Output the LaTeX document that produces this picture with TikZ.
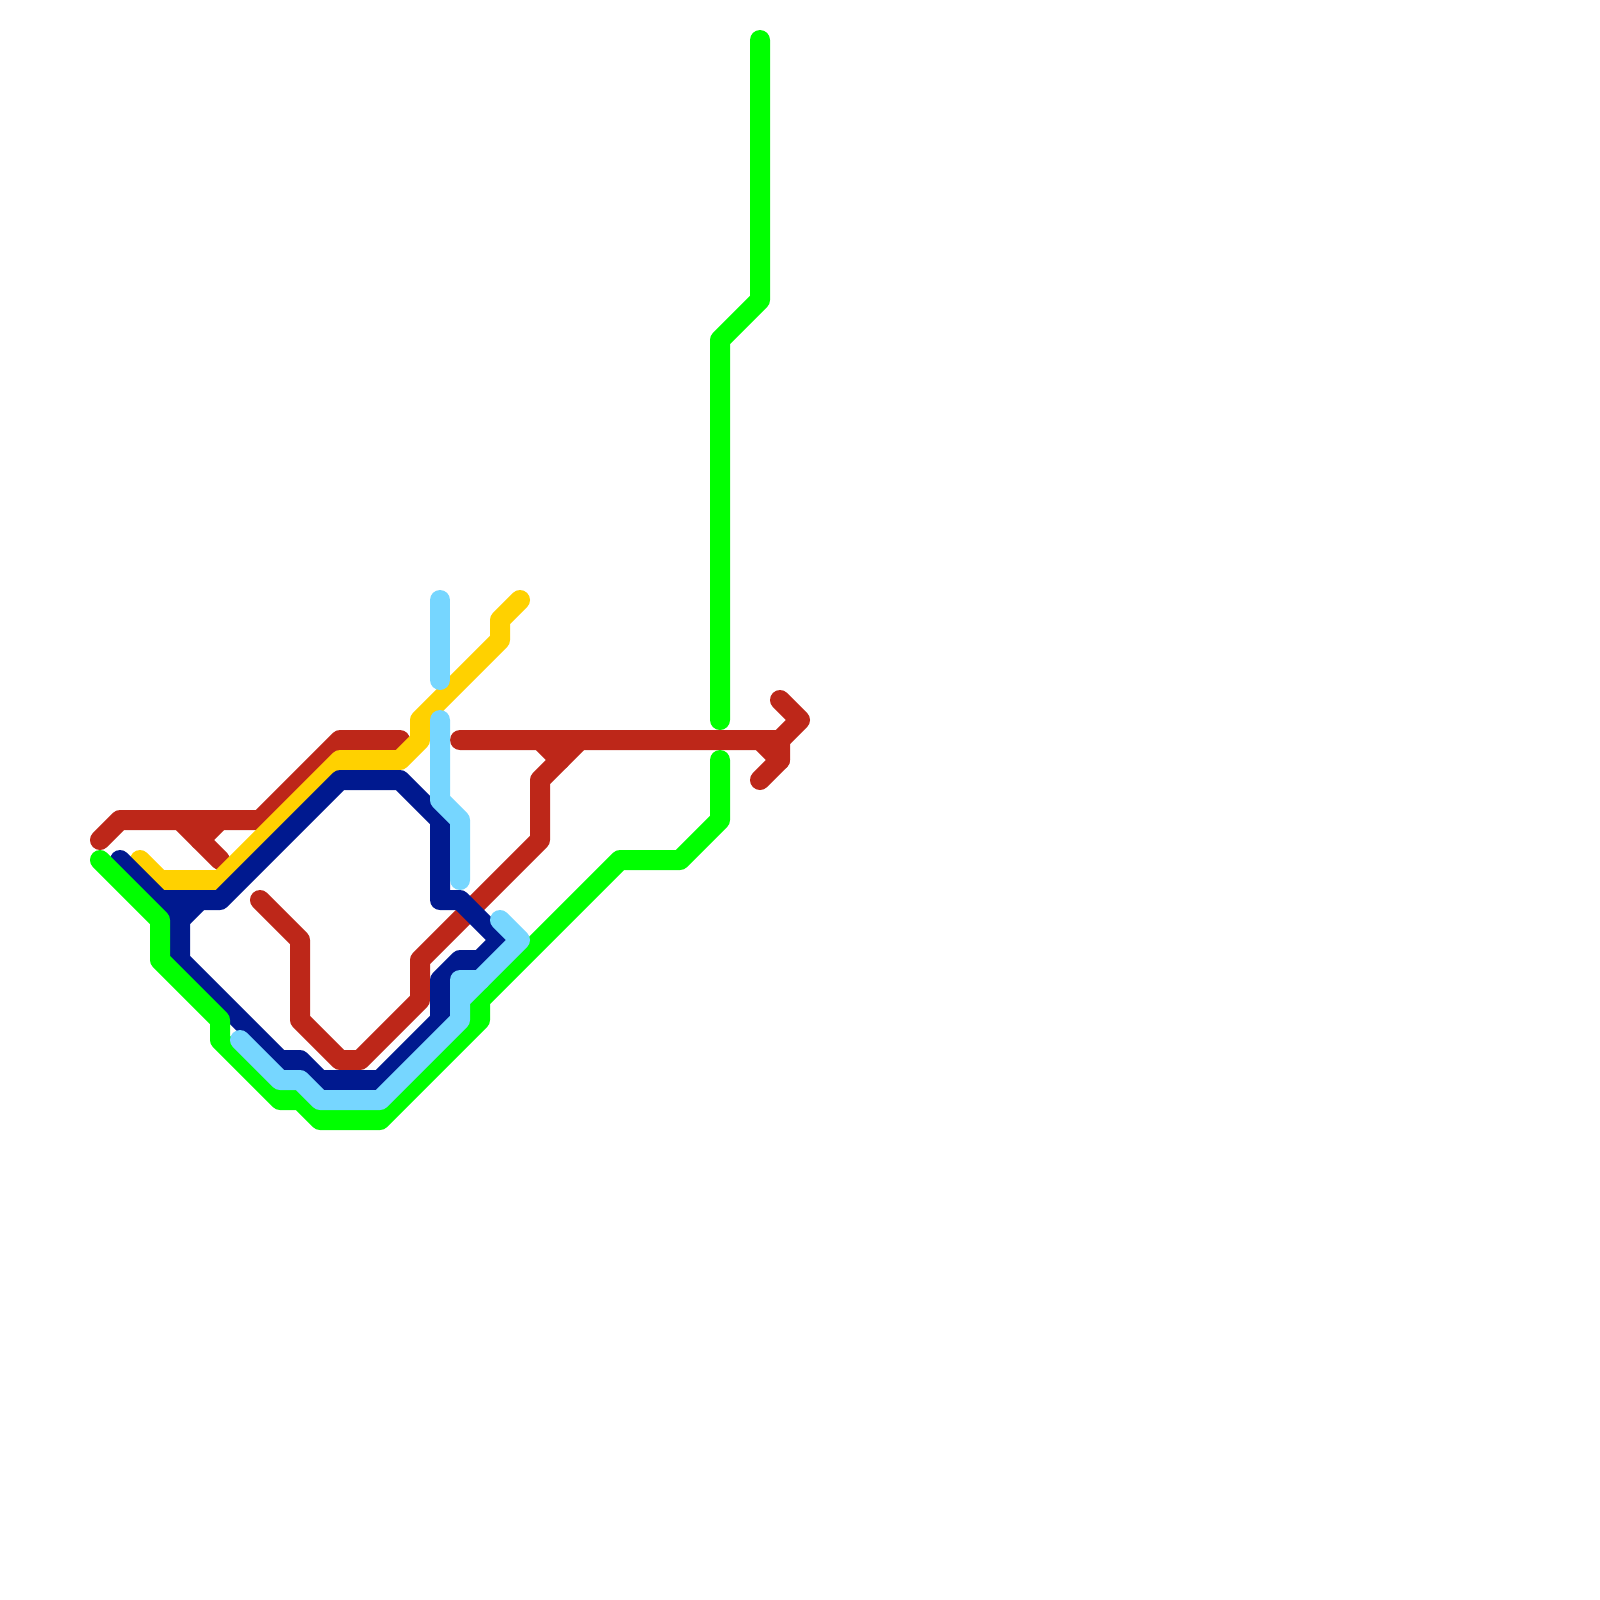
\documentclass[tikz,border=0pt]{standalone}
\usepackage{xcolor}
\definecolor{metroRed}{HTML}{BD2719}
\definecolor{metroYellow}{HTML}{FFD100}
\definecolor{metroBlue}{HTML}{00198F}
\definecolor{metroGreen}{HTML}{00FF00}
\definecolor{metroSky}{HTML}{76D6FF}

\begin{document}
\begin{tikzpicture}[
        x=0.25cm,
        y=-0.25cm,
        metro/.style={
            line width=0.25cm,
            line cap=round,
            line join=round
        },
        redline/.style={metro, draw=metroRed},
        yellowline/.style={metro, draw=metroYellow},
        blueline/.style={metro, draw=metroBlue},
        greenline/.style={metro, draw=metroGreen},
        skyline/.style={metro, draw=metroSky}
    ]

        \useasboundingbox (0,0) rectangle (80,80);

        \draw[redline] (5,42) -- (6,41) -- (13,41) -- (17,37) -- (20,37);
        \draw[redline] (9,41) -- (11,43);
        \draw[redline] (10,42) -- (11,41);
        \draw[redline] (13,45) -- (15,47) -- (15,51) -- (17,53) -- (18,53) -- (21,50) -- (21,48) -- (27,42) -- (27,39) -- (29,37);
        \draw[redline] (27,37) -- (28,38);
        \draw[redline] (23,37) -- (39,37) -- (40,36) -- (39,35);
        \draw[redline] (39,37) -- (39,38) -- (38,39);
        \draw[redline] (38,37) -- (39,38);

        \draw[yellowline] (7,43) -- (8,44) -- (11,44) -- (17,38) -- (20,38) -- (21,37) -- (21,36) -- (25,32) -- (25,31) -- (26,30);

        \draw[blueline] (6,43) -- (9,46) -- (9,48) -- (14,53) -- (15,53) -- (16,54) -- (19,54) -- (22,51) -- (22,49) -- (23,48) -- (24,48) -- (25,47) -- (23,45) -- (22,45) -- (22,41) -- (20,39) -- (17,39) -- (11,45) -- (8,45);
        \draw[blueline] (9,46) -- (10,45);

        \draw[greenline] (5,43) -- (8,46) -- (8,48) -- (11,51) -- (11,52) -- (14,55) -- (15,55) -- (16,56) -- (19,56) -- (24,51) -- (24,50) -- (31,43) -- (34,43) -- (36,41) -- (36,38);
        \draw[greenline] (36,36) -- (36,17) -- (38,15) -- (38,2);

        \draw[skyline] (22,30) -- (22,34);
        \draw[skyline] (22,36) -- (22,40) -- (23,41) -- (23,44);
        \draw[skyline] (12,52) -- (14,54) -- (15,54) -- (16,55) -- (19,55) -- (23,51) -- (23,50) -- (26,47) -- (25,46);
        \draw[skyline] (23,50) -- (23,49) -- (24,49);

    \end{tikzpicture}
\end{document}
